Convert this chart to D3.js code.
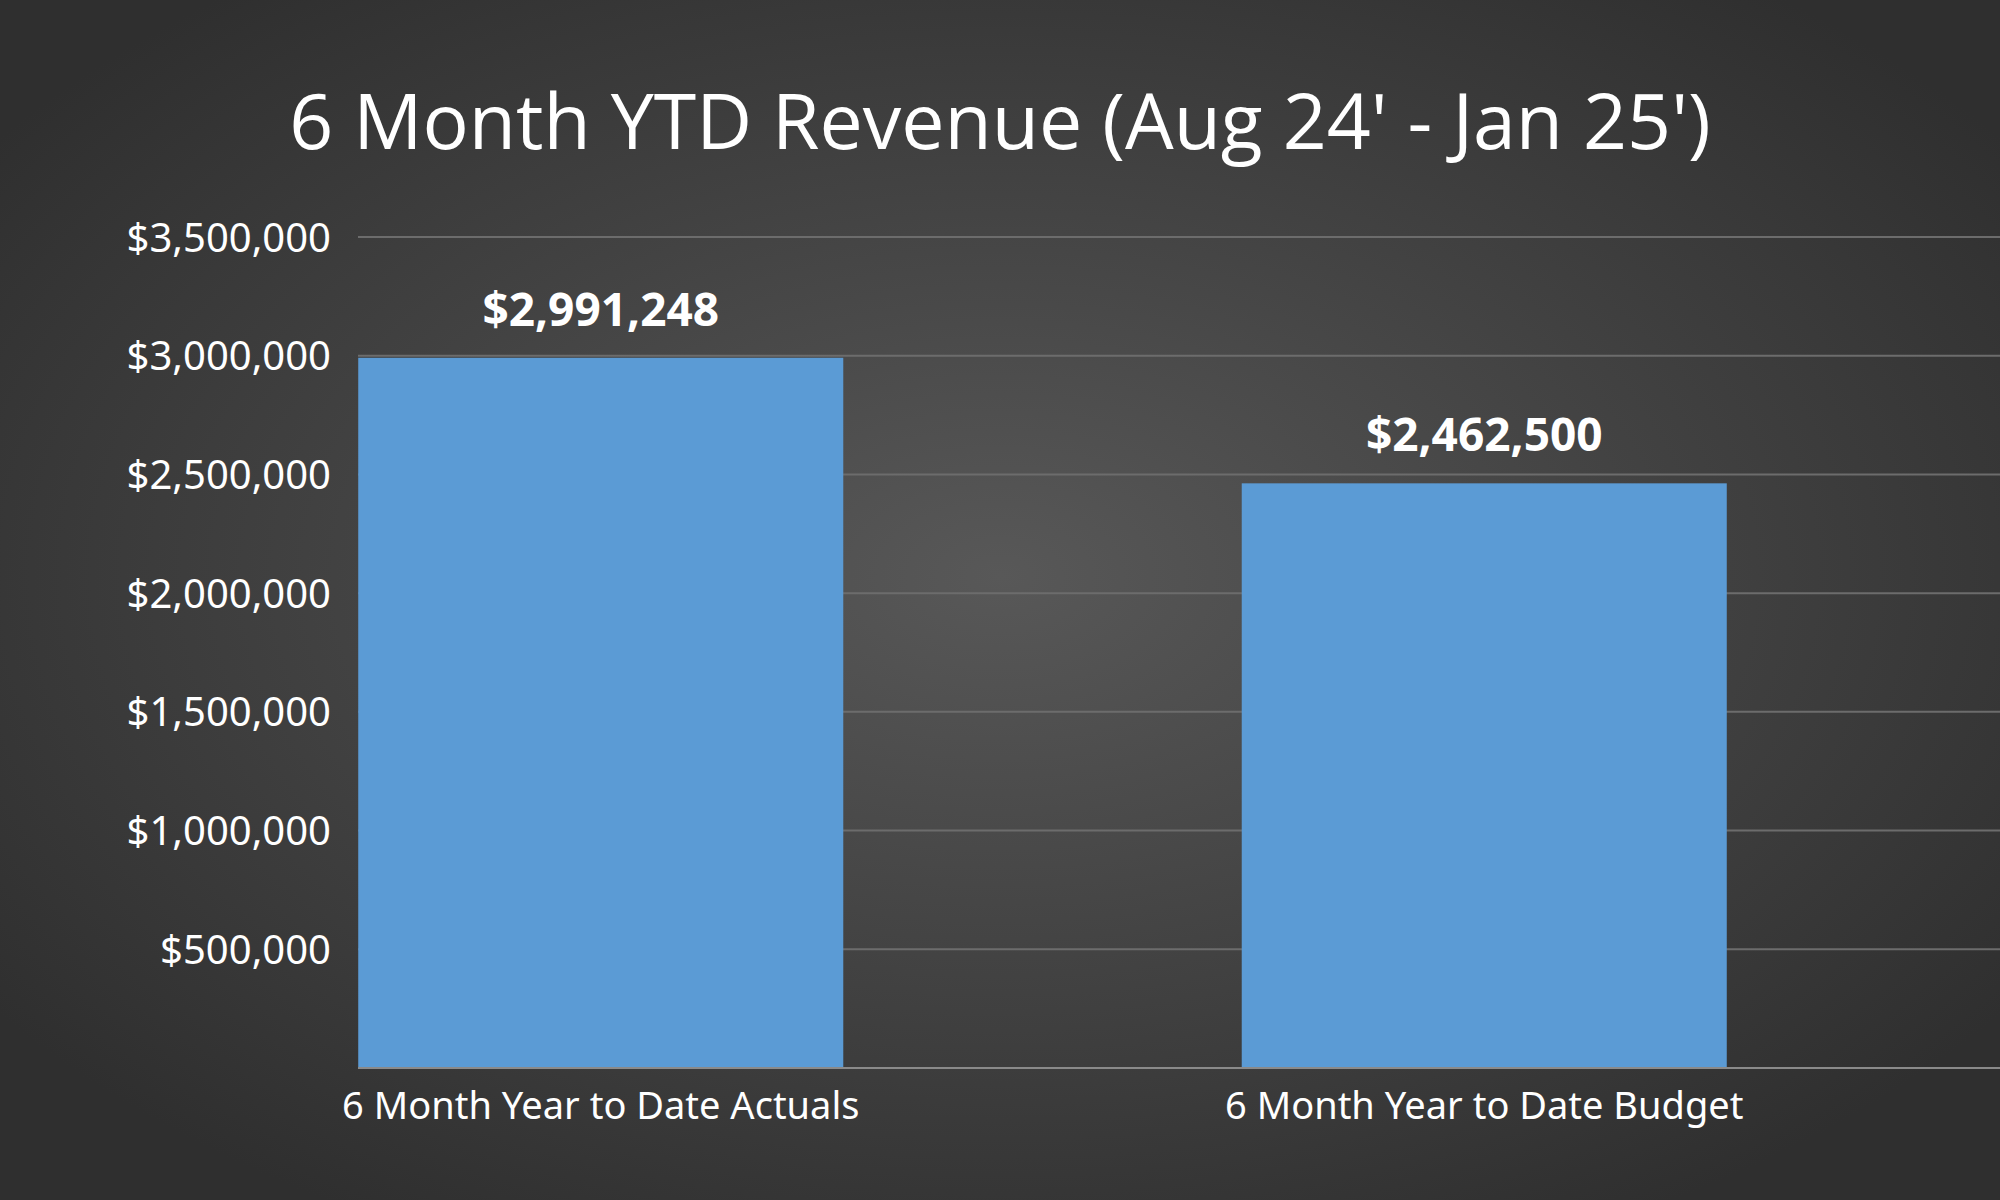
<!DOCTYPE html>
<html>
<head>
<meta charset="utf-8">
<script src="https://cdn.jsdelivr.net/npm/d3@7"></script>
<style>
  html, body { margin: 0; padding: 0; background: #3a3a3a; }
  svg { display: block; }
</style>
</head>
<body>
<script>
// chart data
var categories = ["6 Month Year to Date Actuals", "6 Month Year to Date Budget"];
var revenue = [2991248, 2462500];
var yTicks = [500000, 1000000, 1500000, 2000000, 2500000, 3000000, 3500000];
var title = "6 Month YTD Revenue (Aug 24' - Jan 25')";

var width = 2000, height = 1200;
var plotLeft = 358, plotRight = 2000, plotTop = 237, plotBottom = 1068;

var svg = d3.select("body").append("svg")
    .attr("width", width)
    .attr("height", height);

// background radial gradient
var defs = svg.append("defs");
var grad = defs.append("radialGradient")
    .attr("id", "bg")
    .attr("cx", "50%").attr("cy", "48%").attr("r", "62%");
grad.append("stop").attr("offset", "0%").attr("stop-color", "#585858");
grad.append("stop").attr("offset", "100%").attr("stop-color", "#2f2f2f");

svg.append("rect")
    .attr("width", width).attr("height", height)
    .attr("fill", "url(#bg)");

var y = d3.scaleLinear().domain([0, 3500000]).range([plotBottom, plotTop]);

// band scale positioned so the first bar starts at the plot's left edge
var x = d3.scaleBand()
    .domain(categories)
    .range([159, 1926])
    .paddingInner(0.451)
    .paddingOuter(0.2255);

var fmt = d3.format("$,.0f");

// gridlines
svg.append("g").selectAll("line")
    .data(yTicks)
    .enter().append("line")
    .attr("x1", plotLeft).attr("x2", plotRight)
    .attr("y1", function (d) { return y(d); })
    .attr("y2", function (d) { return y(d); })
    .attr("stroke", "#6c6c6c")
    .attr("stroke-width", 2);

// y axis labels
var yAxis = d3.axisLeft(y).tickValues(yTicks).tickFormat(fmt).tickSize(0).tickPadding(0);
var yg = svg.append("g")
    .attr("transform", "translate(331,0)")
    .call(yAxis);
yg.select(".domain").remove();
yg.selectAll("text")
    .attr("fill", "#ffffff")
    .attr("font-family", "'Noto Sans', sans-serif")
    .attr("font-size", 40)
    .attr("dy", "0.35em");

// bars
svg.append("g").selectAll("rect")
    .data(revenue)
    .enter().append("rect")
    .attr("x", function (d, i) { return x(categories[i]); })
    .attr("y", function (d) { return y(d); })
    .attr("width", x.bandwidth())
    .attr("height", function (d) { return y(0) - y(d); })
    .attr("fill", "#5b9bd5");

// baseline
svg.append("line")
    .attr("x1", plotLeft).attr("x2", plotRight)
    .attr("y1", y(0)).attr("y2", y(0))
    .attr("stroke", "#8a8a8a")
    .attr("stroke-width", 2);

// data labels
svg.append("g").selectAll("text")
    .data(revenue)
    .enter().append("text")
    .attr("x", function (d, i) { return x(categories[i]) + x.bandwidth() / 2; })
    .attr("y", function (d) { return y(d) - 32; })
    .attr("text-anchor", "middle")
    .attr("fill", "#ffffff")
    .attr("font-family", "'Noto Sans', sans-serif")
    .attr("font-weight", "bold")
    .attr("font-size", 46)
    .text(function (d) { return fmt(d); });

// x axis labels
var xAxis = d3.axisBottom(x).tickSize(0).tickPadding(0);
var xg = svg.append("g")
    .attr("transform", "translate(0," + (y(0) + 51) + ")")
    .call(xAxis);
xg.select(".domain").remove();
xg.selectAll("text")
    .attr("fill", "#ffffff")
    .attr("font-family", "'Noto Sans', sans-serif")
    .attr("font-size", 38)
    .attr("dy", "0");

// title
svg.append("text")
    .attr("x", 1000)
    .attr("y", 149)
    .attr("text-anchor", "middle")
    .attr("fill", "#ffffff")
    .attr("font-family", "'Open Sans', 'Noto Sans', sans-serif")
    .attr("font-size", 77)
    .text(title);
</script>
</body>
</html>
